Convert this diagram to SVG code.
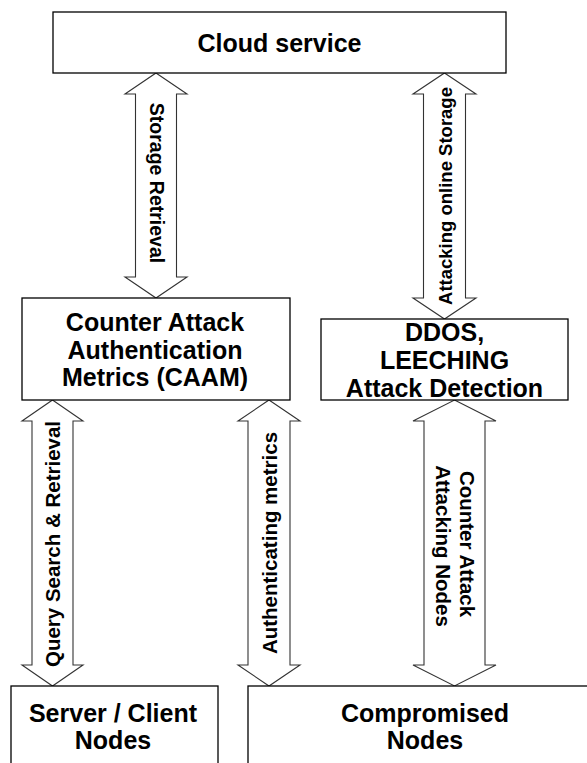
<svg xmlns="http://www.w3.org/2000/svg" width="587" height="763" viewBox="0 0 587 763">
  <style>
    .box { fill: #ffffff; stroke: #000000; stroke-width: 1.3; }
    .arrow { fill: #ffffff; stroke: #333333; stroke-width: 1.1; stroke-linejoin: miter; }
    .title { font-family: "Liberation Sans", Arial, sans-serif; font-weight: bold; font-size: 25px; fill: #000000; text-anchor: middle; }
    .lbl { font-family: "Liberation Sans", Arial, sans-serif; font-weight: bold; fill: #000000; text-anchor: middle; }
  </style>
  <rect width="587" height="763" fill="#ffffff"/>

  <!-- double-headed block arrows and their labels -->
  <g id="connectors">
    <!-- Cloud service <-> CAAM -->
    <polygon class="arrow" points="156,73 187,94 176.5,94 176.5,277 187,277 156,298 125,277 135.5,277 135.5,94 125,94"/>
    <text class="lbl" font-size="19.5" transform="translate(150,183) rotate(90)">Storage Retrieval</text>

    <!-- Cloud service <-> DDOS detection -->
    <polygon class="arrow" points="444.5,73 476,94 465.5,94 465.5,298 476,298 444.5,319 413,298 423.5,298 423.5,94 413,94"/>
    <text class="lbl" font-size="18.5" font-weight="normal" transform="translate(451.5,196) rotate(-90)">Attacking online Storage</text>

    <!-- CAAM <-> Server / Client -->
    <polygon class="arrow" points="52.5,400 83,421 73,421 73,665 83,665 52.5,686 22,665 32,665 32,421 22,421"/>
    <text class="lbl" font-size="20.5" transform="translate(59.5,544) rotate(-90)">Query Search &amp; Retrieval</text>

    <!-- CAAM <-> Compromised -->
    <polygon class="arrow" points="269,400 300,421 290,421 290,665 300,665 269,686 238,665 248,665 248,421 238,421"/>
    <text class="lbl" font-size="20.5" transform="translate(276.5,543) rotate(-90)">Authenticating metrics</text>

    <!-- DDOS detection <-> Compromised -->
    <polygon class="arrow" points="454.5,400 496,421 485,421 485,665 496,665 454.5,686 413,665 424,665 424,421 413,421"/>
    <text class="lbl" font-size="20.5" transform="translate(460,544) rotate(90)">Counter Attack</text>
    <text class="lbl" font-size="20.5" transform="translate(435.5,546) rotate(90)">Attacking Nodes</text>
  </g>

  <g id="cloud">
    <rect class="box" x="53" y="12" width="453" height="61"/>
    <text class="title" x="279.5" y="52">Cloud service</text>
  </g>

  <g id="caam">
    <rect class="box" x="22" y="298" width="268" height="102"/>
    <text class="title" x="155" y="331">Counter Attack</text>
    <text class="title" x="155" y="358.5">Authentication</text>
    <text class="title" x="155" y="386">Metrics (CAAM)</text>
  </g>

  <g id="ddos">
    <rect class="box" x="321" y="319" width="247" height="81"/>
    <text class="title" x="444.5" y="341">DDOS,</text>
    <text class="title" x="444.5" y="369">LEECHING</text>
    <text class="title" x="444.5" y="397">Attack Detection</text>
  </g>

  <g id="server-client">
    <rect class="box" x="11" y="686" width="207" height="100"/>
    <text class="title" x="113" y="722">Server / Client</text>
    <text class="title" x="113" y="749">Nodes</text>
  </g>

  <g id="compromised">
    <rect class="box" x="248" y="686" width="360" height="100"/>
    <text class="title" x="425" y="722">Compromised</text>
    <text class="title" x="425" y="749">Nodes</text>
  </g>
</svg>
